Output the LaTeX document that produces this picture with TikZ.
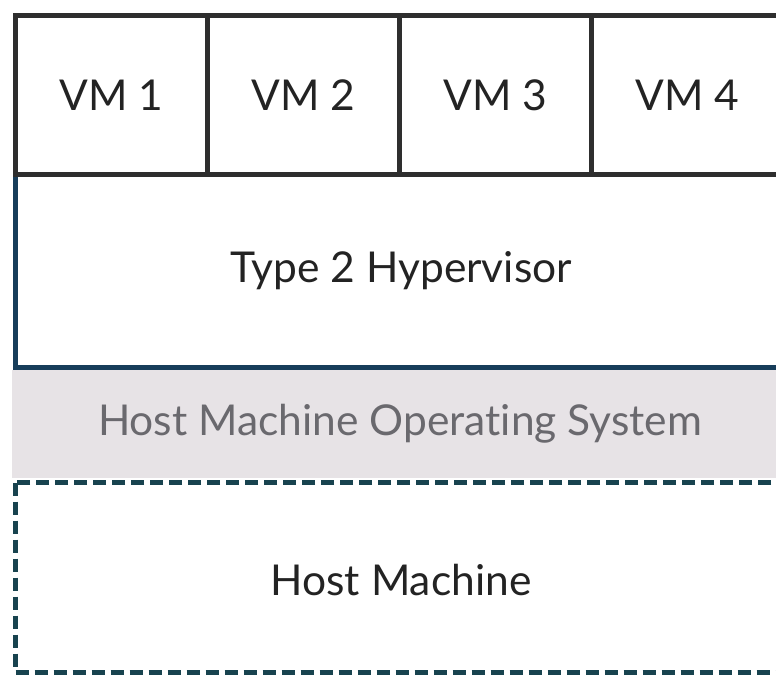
\documentclass[tikz,border=0pt]{standalone}
\usepackage{fontspec}
\setmainfont[Ligatures=NoCommon]{Lato}
\definecolor{vmline}{HTML}{2E2E2E}
\definecolor{hypline}{HTML}{173D5A}
\definecolor{hostline}{HTML}{18434F}
\definecolor{osfill}{HTML}{E7E3E6}
\definecolor{ostext}{HTML}{6A696E}
\definecolor{darktext}{HTML}{232323}
\tikzset{
  x=1pt, y=-1pt,
  label/.style={font=\fontsize{42.5}{50}\selectfont, text=darktext, inner sep=0pt, anchor=center},
  vmbox/.style={draw=vmline, line width=5pt},
  hypbox/.style={draw=hypline, line width=5pt},
  hostbox/.style={draw=hostline, line width=5pt, dash pattern=on 13pt off 6pt},
}
\begin{document}
\begin{tikzpicture}
  \useasboundingbox (0,0) rectangle (776,675);
  \clip (0,0) rectangle (776,675);
  \fill[white] (0,0) rectangle (776,675);

  % host operating system band
  \fill[osfill] (12,370) rectangle (800,478);
  \node[label, text=ostext] (os) at (400,424) {Host Machine Operating System};

  % host machine (dashed)
  \draw[hostbox] (15,482.5) rectangle (783,672);
  \node[label] (host) at (401,580) {Host Machine};

  % hypervisor
  \draw[hypbox] (15.5,174.5) rectangle (783,367);
  \node[label] (hyp) at (401,271) {Type 2 Hypervisor};

  % virtual machines
  \foreach \i [evaluate=\i as \xl using 15.5+192*(\i-1)] in {1,2,3,4} {
    \draw[vmbox] (\xl,15.5) rectangle (\xl+192,174.5);
    \node[label] (vm\i) at (\xl+96,95) {VM \i};
  }
\end{tikzpicture}
\end{document}
